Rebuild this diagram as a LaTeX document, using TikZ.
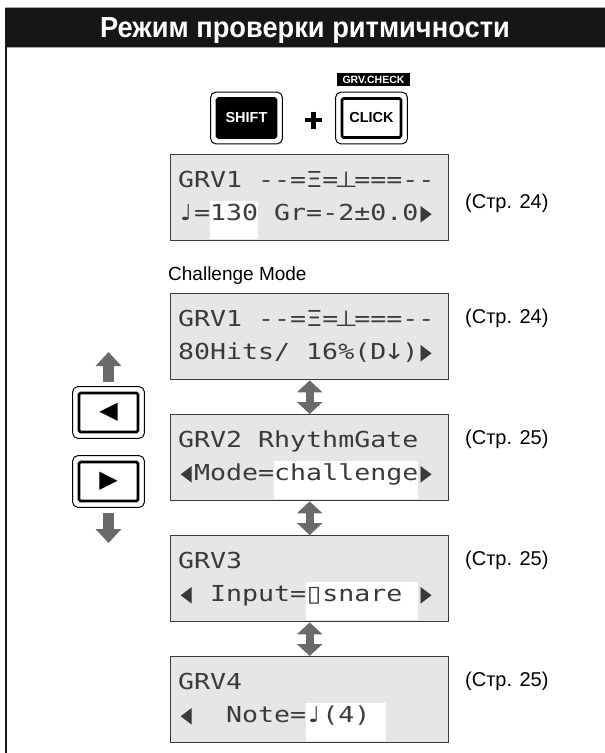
\documentclass[tikz,border=0pt]{standalone}
\usepackage{fontspec}
\usepackage{graphicx}
\usetikzlibrary{positioning,calc,arrows.meta}
\setmainfont{Liberation Sans}
\newfontfamily\lcdfont{DejaVu Sans Mono}[Ligatures=TeXOff]
\newfontfamily\glyphfont{DejaVu Sans}

\definecolor{barblack}{HTML}{161616}
\definecolor{lcdgray}{HTML}{E6E6E6}
\definecolor{lcdink}{HTML}{3A3A3A}
\definecolor{arrowgray}{HTML}{6A6A6A}

% one LCD row: 16 cells, 16pt each
\newcommand\lcdrow[1]{\scalebox{1.2085}[1]{\fontsize{22}{22}\lcdfont #1}}
\newcommand\lcdcell[1]{\makebox[0.602em]{\glyphfont #1}}
\newcommand\lcdright{\makebox[0.602em]{\glyphfont\scalebox{0.55}[1]{▶}}}
\newcommand\lcdleft{\makebox[0.602em]{\glyphfont\scalebox{0.55}[1]{◀}}}
% white field behind cells #2 .. #3-1 of the lower row
\newcommand\lcdmark[3]{\fill[white] ([shift={(8+16*#2,47)}]#1.north west) rectangle ([shift={(8+16*#3,85.2)}]#1.north west);}

\begin{document}
\begin{tikzpicture}[x=1pt,y=-1pt,
    lcd/.style={rectangle,draw=lcdink,line width=1.4pt,fill=lcdgray,minimum width=278pt,minimum height=86pt,anchor=north west,inner sep=0pt},
    lcdtext/.style={anchor=base west,inner sep=0pt,text=lcdink},
    keybox/.style={rectangle,draw=black,line width=2.6pt,rounded corners=1.5pt,minimum width=59pt,minimum height=39pt,inner sep=0pt,font=\fontsize{14.5}{14.5}\selectfont\bfseries},
    keyrim/.style={line width=1pt,rounded corners=5pt},
    pageref/.style={anchor=west,inner sep=0pt,font=\fontsize{20}{20}\selectfont},
    biarrow/.style={arrowgray,line width=8pt,arrows={Triangle[width=25pt,length=12pt]-Triangle[width=25pt,length=12pt]}},
    onearrow/.style={arrowgray,line width=11pt,arrows={-Triangle[width=25pt,length=14pt]}}
    ]
\useasboundingbox (0,0) rectangle (605,753);

% Titre et cadre
\fill[barblack] (5,7) rectangle (605,47);
\draw[gray!70,line width=0.6pt] (5,7) -- (605,7) (5,47) -- (605,47);
\draw[barblack,line width=2.4pt] (6.2,47) -- (6.2,753);
\node[anchor=base,text=white,font=\fontsize{29}{29}\selectfont\bfseries] (title) at (305,37.5) {\scalebox{0.94}[1]{Режим проверки ритмичности}};

% Touches SHIFT + CLICK
\node[keybox,fill=black,text=white] (shiftkey) at (246.5,118) {SHIFT};
\node[keybox,fill=white] (clickkey) at (371.5,118) {CLICK};
\node[fill=black,text=white,inner sep=0pt,minimum width=73pt,minimum height=13pt,font=\fontsize{10.5}{10.5}\selectfont\bfseries] (grvcheck) at (373.5,79.5) {GRV.CHECK};
\draw[line width=4.4pt] (305,120) -- (322,120) (313.5,111.5) -- (313.5,128.5);

% Touches curseur
\node[keybox,fill=white] (leftkey) at (108.5,412.5) {\glyphfont\fontsize{24}{24}\selectfont ◀};
\node[keybox,fill=white] (rightkey) at (108.5,481.5) {\glyphfont\fontsize{24}{24}\selectfont ▶};
\foreach \k in {shiftkey,clickkey,leftkey,rightkey}
  \draw[keyrim] ([shift={(-5,-5)}]\k.north west) rectangle ([shift={(5,5)}]\k.south east);
\coordinate (upfoot) at (108.5,382);
\coordinate (uptip) at (108.5,352);
\draw[onearrow] (upfoot) -- (uptip);
\coordinate (downfoot) at (108.5,513);
\coordinate (downtip) at (108.5,543);
\draw[onearrow] (downfoot) -- (downtip);

% Afficheurs
\node[lcd] (d1) at (170,154) {};
\lcdmark{d1}{2}{5}
\node[lcdtext] (d1top) at ([shift={(8,33)}]d1.north west) {\lcdrow{GRV1 --=\lcdcell{Ξ}=\lcdcell{⊥}===--}};
\node[lcdtext] (d1bot) at ([shift={(8,66)}]d1.north west) {\lcdrow{\lcdcell{♩}=130 Gr=-2±0.0\lcdright}};
\node[pageref] (p1) at (465,203) {(Стр. 24)};

\node[anchor=base west,inner sep=0pt,font=\fontsize{19}{19}\selectfont] (chmode) at (168,280) {Challenge Mode};

\node[lcd] (d2) at (170,293) {};
\node[lcdtext] (d2top) at ([shift={(8,33)}]d2.north west) {\lcdrow{GRV1 --=\lcdcell{Ξ}=\lcdcell{⊥}===--}};
\node[lcdtext] (d2bot) at ([shift={(8,66)}]d2.north west) {\lcdrow{80Hits/ 16\%(D\lcdcell{↓})\lcdright}};
\node[pageref] (p2) at (465,318) {(Стр. 24)};

\node[lcd] (d3) at (170,414) {};
\lcdmark{d3}{6}{15}
\node[lcdtext] (d3top) at ([shift={(8,33)}]d3.north west) {\lcdrow{GRV2 RhythmGate}};
\node[lcdtext] (d3bot) at ([shift={(8,66)}]d3.north west) {\lcdrow{\lcdleft Mode=challenge\lcdright}};
\node[pageref] (p3) at (465,439) {(Стр. 25)};

\node[lcd] (d4) at (170,535) {};
\lcdmark{d4}{8}{15}
\node[lcdtext] (d4top) at ([shift={(8,33)}]d4.north west) {\lcdrow{GRV3}};
\node[lcdtext] (d4bot) at ([shift={(8,66)}]d4.north west) {\lcdrow{\lcdleft~Input=\lcdcell{▯}snare~\lcdright}};
\node[pageref] (p4) at (465,560) {(Стр. 25)};

\node[lcd] (d5) at (170,656) {};
\lcdmark{d5}{8}{13}
\node[lcdtext] (d5top) at ([shift={(8,33)}]d5.north west) {\lcdrow{GRV4}};
\node[lcdtext] (d5bot) at ([shift={(8,66)}]d5.north west) {\lcdrow{\lcdleft~~Note=\lcdcell{♩}(4)}};
\node[pageref] (p5) at (465,681) {(Стр. 25)};

\draw[biarrow] (d2.south) -- (d3.north);
\draw[biarrow] (d3.south) -- (d4.north);
\draw[biarrow] (d4.south) -- (d5.north);
\end{tikzpicture}
\end{document}
